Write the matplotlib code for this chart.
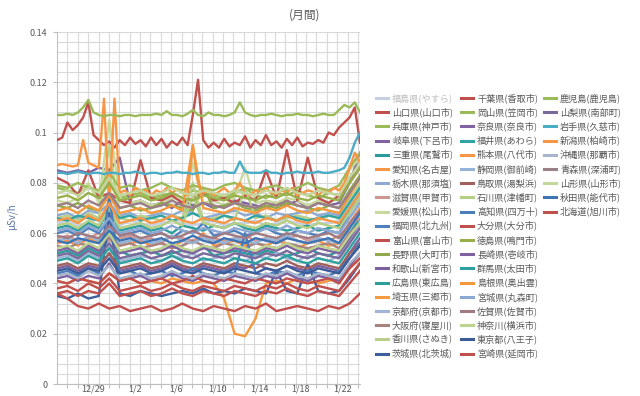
import numpy as np
import matplotlib
matplotlib.use("Agg")
import matplotlib.pyplot as plt
from matplotlib.lines import Line2D

plt.rcParams['font.family'] = ['Noto Sans CJK JP', 'DejaVu Sans']

# ---------------- data (values in 0.001 μSv/h) ----------------
title = "(月間)"
y_label = "μSv/h"
x_tick_labels = ['12/29', '1/2', '1/6', '1/10', '1/14', '1/18', '1/22']
x_tick_slots = [3, 7, 11, 15, 19, 23, 27]      # day slot index, slot 0 = 12/26
n_day_span = 29.2
y_ticks = [0, 0.02, 0.04, 0.06, 0.08, 0.10, 0.12, 0.14]
y_tick_labels = ['0', '0.02', '0.04', '0.06', '0.08', '0.1', '0.12', '0.14']

fukushima = [64,65,63,64,66,64,63,65,64,63,64,65,64,63,64,65,63,64,64,65,63,64,65,64,63,64,64,65,70,72]
yamaguchi = [97,98,104,101,103,106,112,99,97,95,
             96.5,94,97,95,98,95.5,97,94.5,98,95,
             97.5,94,96.5,95,98,95,107,121,97,94,
             96,94,97.5,94.5,96,95,98.5,94,97,95,
             99,95,96.5,94,97.5,95,98,94.5,96,95.5,
             97,96,100,99,102,104,106,110,96]
hyogo = [78,77,76,79,75,80,74,75,76,74,75,76,74,77,76,75,74,76,78,75,74,76,75,77,75,74,76,75,82,88]
gifu = [85,84,85,84,86,85,90,72,73,71,72,70,73,71,72,70,71,73,72,71,70,72,71,73,70,72,71,72,80,92]
mie = [52,53,51,54,52,58,53,51,52,53,51,52,53,52,55,51,52,53,52,51,53,52,51,52,54,52,51,53,60,66]
aichi = [56,57,55,58,56,62,55,56,57,55,56,54,57,56,60,55,56,57,55,56,55,57,56,54,56,57,55,56,64,70]
tochigi = [67,68,66,69,68,72,67,68,66,67,68,67,69,68,66,67,68,69,67,68,66,68,67,68,69,67,68,67,74,78]
shiga = [58,59,57,58,60,57,58,59,57,58,56,59,58,57,59,58,57,58,59,57,58,56,58,59,57,58,57,59,63,66]
ehime = [73,72,74,80,72,105,74,72,73,71,72,74,73,88,72,73,71,74,86,72,73,72,74,73,71,73,72,74,85,90]
fukuoka = [60,61,59,62,60,66,59,60,61,59,60,58,61,60,64,59,60,61,59,60,62,60,59,61,60,59,61,60,68,74]
toyama = [82,80,75,85,74,76,73,72,89,74,73,75,72,74,76,73,74,72,75,73,85,74,93,73,90,74,72,75,80,86]
nagano = [71,70,72,70,69,76,70,71,69,70,72,71,70,69,78,70,71,72,70,69,71,70,72,71,70,69,71,70,77,83]
wakayama = [46,47,45,47,46,52,45,46,47,45,46,48,46,45,47,46,45,47,46,48,46,45,47,46,45,47,46,45,52,58]
hiroshima = [62,63,61,64,62,70,61,62,63,61,62,60,63,62,61,63,62,64,62,61,63,62,61,62,63,61,62,63,70,76]
saitama = [41,40,42,41,40,44,41,42,40,41,40,42,41,40,41,40,34,20,19,26,40,41,40,42,41,40,41,42,46,50]
kyoto = [50,51,49,52,50,55,49,50,51,50,49,51,50,52,49,50,51,50,49,51,50,52,50,49,51,50,49,51,57,62]
osaka = [55,54,56,55,54,58,55,56,54,55,56,54,55,57,55,54,56,55,54,56,55,54,56,55,54,55,56,54,60,64]
kagawa = [66,67,65,68,66,95,66,65,67,66,65,67,66,80,65,66,67,65,78,66,67,65,66,67,66,65,67,66,73,80]
ibaraki = [35,34,36,34,35,68,36,35,37,36,35,36,37,36,38,36,37,36,38,37,36,45,37,36,48,37,36,37,42,48]

chiba = [36,34,31,30,32,30,31,29,30,31,29,30,32,30,29,31,30,29,31,30,32,29,30,31,30,29,31,30,32,36]
okayama = [79,78,80,78,77,84,78,79,77,78,80,78,77,79,78,77,79,80,78,77,78,79,77,78,80,78,77,79,86,92]
nara = [53,54,52,55,53,60,52,53,54,52,53,55,53,52,54,53,52,54,53,52,54,53,55,53,52,54,53,52,58,64]
fukui = [66,65,67,66,65,70,66,67,65,66,67,65,66,68,66,65,67,66,65,67,66,65,67,66,65,66,67,66,72,78]
kumamoto = [87,87.5,87,86.5,87,97,88,87,86,113.5,
            70,113.5,76,77,75,78,76.5,77,75,77,
            76,78,76,77.5,76,75,95,80,76,77,
            75,76.5,78,76,77,80,76,75,77,76,
            78,76,75.5,77,76,78,75,76,77,76.5,
            75,77,76,78,77,80,86,92,88]
shizuoka = [57,58,56,59,57,62,56,57,58,56,57,59,57,56,58,57,56,58,57,56,58,57,59,57,56,58,57,56,62,68]
tottori = [47,48,46,48,47,52,46,47,48,46,47,49,47,46,48,47,46,48,47,46,48,47,49,47,46,48,47,46,52,56]
ishikawa = [63,64,62,65,63,70,62,63,64,62,63,65,63,75,64,63,62,64,63,62,64,63,65,63,62,64,63,62,68,74]
kochi = [44,45,43,46,44,75,44,45,43,44,45,43,44,46,44,43,45,44,60,44,43,45,44,43,45,44,43,45,50,56]
oita = [38,39,37,40,38,42,37,38,39,37,38,40,38,37,39,38,37,39,38,37,39,38,40,38,37,39,38,37,43,48]
tokushima = [74,75,73,76,74,80,73,74,75,73,74,76,74,73,75,74,73,75,74,73,75,74,76,74,73,75,74,73,80,86]
nagasaki = [42,43,41,43,42,48,41,42,43,41,42,44,42,41,43,42,41,43,42,41,43,42,44,42,41,43,42,41,47,52]
gunma = [49,50,48,51,49,54,48,49,50,48,49,51,49,48,50,49,48,50,49,48,50,49,51,49,48,50,49,48,54,60]
shimane = [69,70,68,71,69,75,68,69,70,68,69,71,69,95,70,69,68,70,69,68,70,69,71,69,68,70,69,68,75,82]
miyagi = [61,62,60,63,61,66,60,61,62,60,61,63,61,60,62,61,60,62,61,60,62,61,63,61,60,62,61,60,66,72]
saga = [59,58,60,59,58,63,59,60,58,59,60,58,59,61,59,58,60,59,58,60,59,58,60,59,58,59,60,58,64,69]
kanagawa = [54,55,53,56,54,60,53,54,55,53,54,56,54,53,55,54,53,55,54,53,55,54,56,54,53,55,54,53,59,64]
tokyo = [45,46,44,46,45,50,44,45,46,44,45,47,45,44,46,45,44,46,45,44,46,45,47,45,44,46,45,44,50,55]
miyazaki = [41,40,42,41,40,44,41,42,40,41,42,40,41,43,41,40,42,41,40,42,41,40,42,41,40,41,42,40,46,50]

kagoshima = [107,107,107.5,107,108,110,113,108,107,106.5,
             107,107,106.5,107,107,106.5,107,107,107,107.5,
             107,108.5,107,107,106.5,107.5,109,107,106.5,108,
             107,107,106.5,107,108,112,108,107,106.5,107,
             107,107.5,107,106.5,107,107,107.5,107,107,106.5,
             107,107.5,107,107,109,111,110,112,108]
yamanashi = [51,52,50,53,51,56,50,51,52,50,51,53,51,50,52,51,50,52,51,50,52,51,53,51,50,52,51,50,56,62]
iwate = [84,84,83.5,84,84.5,84,83.5,84,84,83.5,
         84,84,83.5,84,84,84.5,84,83.5,84,84,
         83.5,84,84,84.5,84,84,83.5,84,84,83.5,
         84,84,84.5,84,84,88.5,84.5,84,84,84,
         85,84,84,83.5,84,84,84.5,84,84,84,
         84.5,84,84,84.5,85,86,90,96,100]
niigata = [65,66,64,67,65,72,64,65,66,64,65,67,65,64,66,65,64,66,65,64,66,65,67,65,64,66,65,64,70,76]
okinawa = [43,44,42,45,43,47,42,43,44,42,43,45,43,42,44,43,42,44,43,42,44,43,45,43,42,44,43,42,48,52]
aomori = [71,72,70,73,71,76,70,71,72,70,71,73,71,70,72,71,70,72,71,70,72,71,73,71,70,72,71,70,76,82]
yamagata = [76,77,75,78,76,82,75,76,77,75,76,78,76,75,77,76,75,77,76,75,77,76,78,76,75,77,76,75,82,88]
akita = [57,56,58,57,56,61,57,58,56,57,58,56,57,59,57,56,58,57,56,58,57,56,58,57,56,57,58,56,62,68]
hokkaido = [36,37,35,37,36,40,35,36,37,35,36,38,36,35,37,36,35,37,36,35,37,36,38,36,35,37,36,35,40,45]

legend_col1 = [
    ("福島県(やすら)", fukushima, "#c6d0e1"),
    ("山口県(山口市)", yamaguchi, "#c0504d"),
    ("兵庫県(神戸市)", hyogo, "#9bbb59"),
    ("岐阜県(下呂市)", gifu, "#8064a2"),
    ("三重県(尾鷲市)", mie, "#2b9b9b"),
    ("愛知県(名古屋)", aichi, "#f79646"),
    ("栃木県(那須塩)", tochigi, "#8eaad4"),
    ("滋賀県(甲賀市)", shiga, "#d09692"),
    ("愛媛県(松山市)", ehime, "#c9d89c"),
    ("福岡県(北九州)", fukuoka, "#4f81bd"),
    ("富山県(富山市)", toyama, "#c0504d"),
    ("長野県(大町市)", nagano, "#8fa94c"),
    ("和歌山(新宮市)", wakayama, "#7d60a0"),
    ("広島県(東広島)", hiroshima, "#2e9e9b"),
    ("埼玉県(三郷市)", saitama, "#f59a40"),
    ("京都府(京都市)", kyoto, "#a3b5d6"),
    ("大阪府(寝屋川)", osaka, "#a8827f"),
    ("香川県(さぬき)", kagawa, "#b8d08a"),
    ("茨城県(北茨城)", ibaraki, "#3d5f9c"),
]
legend_col2 = [
    ("千葉県(香取市)", chiba, "#c0504d"),
    ("岡山県(笠岡市)", okayama, "#9bbb59"),
    ("奈良県(奈良市)", nara, "#8064a2"),
    ("福井県(あわら)", fukui, "#31a3a3"),
    ("熊本県(八代市)", kumamoto, "#f79646"),
    ("静岡県(御前崎)", shizuoka, "#95b3d7"),
    ("鳥取県(湯梨浜)", tottori, "#a0605c"),
    ("石川県(津幡町)", ishikawa, "#b5cf86"),
    ("高知県(四万十)", kochi, "#4a7dba"),
    ("大分県(大分市)", oita, "#c0504d"),
    ("徳島県(鳴門市)", tokushima, "#98b04a"),
    ("長崎県(壱岐市)", nagasaki, "#7e62a0"),
    ("群馬県(太田市)", gunma, "#2fa0a0"),
    ("島根県(奥出雲)", shimane, "#f4983e"),
    ("宮城県(丸森町)", miyagi, "#8ba7d2"),
    ("佐賀県(佐賀市)", saga, "#a17a82"),
    ("神奈川(横浜市)", kanagawa, "#bdd48f"),
    ("東京都(八王子)", tokyo, "#3b5c98"),
    ("宮崎県(延岡市)", miyazaki, "#c0504d"),
]
legend_col3 = [
    ("鹿児島(鹿児島)", kagoshima, "#9bbb59"),
    ("山梨県(南部町)", yamanashi, "#7a6a9b"),
    ("岩手県(久慈市)", iwate, "#4bacc6"),
    ("新潟県(柏崎市)", niigata, "#f79646"),
    ("沖縄県(那覇市)", okinawa, "#a6b4cc"),
    ("青森県(深浦町)", aomori, "#9b7f86"),
    ("山形県(山形市)", yamagata, "#c3d69b"),
    ("秋田県(能代市)", akita, "#3f74b4"),
    ("北海道(旭川市)", hokkaido, "#c0504d"),
]

# ---------------- figure ----------------
W, H = 640, 396
fig = plt.figure(figsize=(W / 100, H / 100), dpi=100)
ax = fig.add_axes([57 / W, 1 - 384 / H, (360 - 57) / W, (384 - 32) / H])

grid_c = "#d9d9d9"
text_c = "#595959"

for col in (legend_col1, legend_col2, legend_col3):
    for name, vals, colr in col:
        v = np.asarray(vals, dtype=float) / 1000.0
        xs = np.linspace(0, n_day_span, len(v))
        ax.plot(xs, v, color=colr, lw=1.7, solid_joinstyle='round', zorder=3)

ax.set_xlim(0, n_day_span)
ax.set_ylim(0, 0.14)

# grid: one vertical line per day, horizontal every 0.004
ax.set_xticks(np.arange(1, 30))
ax.set_xticklabels([])
ax.set_xticks([s + 0.5 for s in x_tick_slots], minor=True)
ax.set_xticklabels(x_tick_labels, minor=True)
ax.tick_params(axis='x', which='major', length=3, color="#bfbfbf", direction='out')
ax.tick_params(axis='x', which='minor', length=0, pad=0.5, labelsize=6.5, labelcolor=text_c)
ax.set_yticks(y_ticks)
ax.set_yticklabels(y_tick_labels)
ax.set_yticks(np.arange(0, 0.1401, 0.004), minor=True)
ax.tick_params(axis='y', which='major', length=3, color="#bfbfbf", pad=4, labelsize=6.5, labelcolor=text_c)
ax.tick_params(axis='y', which='minor', length=0)
ax.grid(True, axis='x', which='major', color=grid_c, lw=0.8, zorder=0)
ax.grid(True, axis='y', which='minor', color=grid_c, lw=0.8, zorder=0)
ax.grid(True, axis='y', which='major', color=grid_c, lw=0.8, zorder=0)
ax.set_axisbelow(True)
for s in ('top', 'right'):
    ax.spines[s].set_visible(False)
for s in ('left', 'bottom'):
    ax.spines[s].set_color("#bfbfbf")
    ax.spines[s].set_linewidth(0.8)

# title and axis label
fig.text(305 / W, 1 - 15 / H, title, ha='center', va='center', fontsize=8.5, color=text_c)
fig.text(12 / W, 1 - 217 / H, y_label, ha='center', va='center', rotation=90,
         fontsize=7, color="#5a74a6")

# legend (three columns)
col_x = [376, 461, 544]
row_y0, row_dy = 98, 14.2
for ci, col in enumerate((legend_col1, legend_col2, legend_col3)):
    for ri, (name, vals, colr) in enumerate(col):
        yy = 1 - (row_y0 + ri * row_dy) / H
        x0 = col_x[ci] / W
        fig.add_artist(Line2D([x0, x0 + 12 / W], [yy, yy], color=colr, lw=2.2,
                              transform=fig.transFigure))
        tc = "#bcbcbc" if name.startswith("福島") else text_c
        fig.text(x0 + 16 / W, yy, name, ha='left', va='center', fontsize=6.6, color=tc)

fig.savefig("out.png", dpi=100)
